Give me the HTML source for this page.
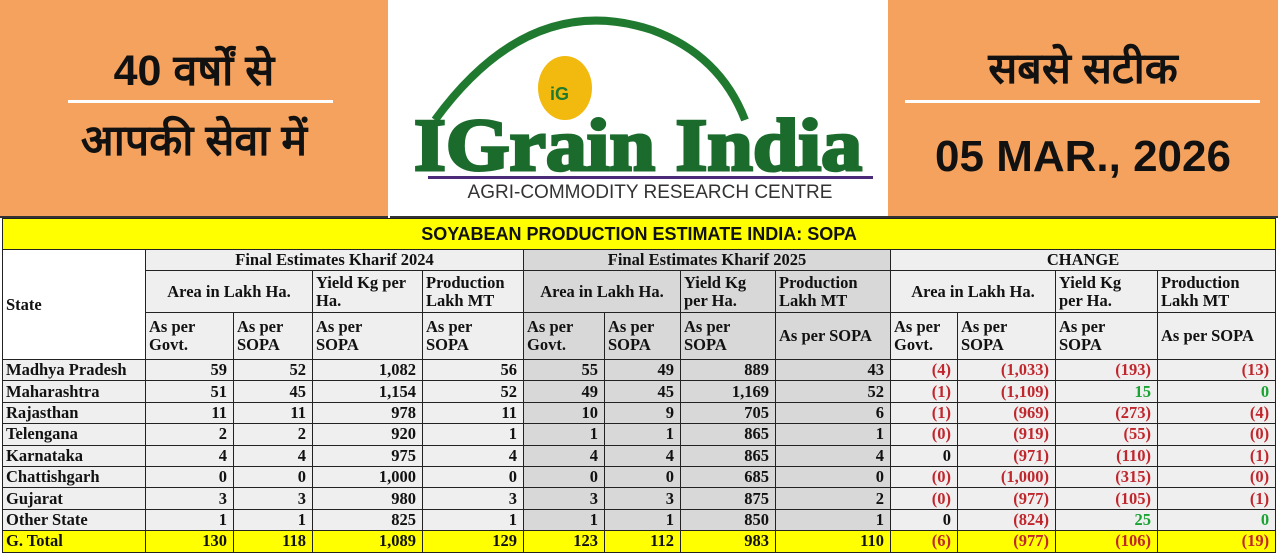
<!DOCTYPE html>
<html><head><meta charset="utf-8"><style>
body{margin:0;width:1280px;height:557px;background:#fff;position:relative;overflow:hidden;font-family:"Liberation Serif",serif}
.or{position:absolute;top:0;height:216px;background:#f4a25e;border-bottom:2px solid #333}
.hi{font-family:"Liberation Sans","Noto Sans CJK SC",sans-serif;position:absolute;text-align:center;color:#111}
table{position:absolute;left:2px;top:218px;border-collapse:collapse;table-layout:fixed;width:1273px}
td{border:1px solid #222;font-weight:bold;font-size:16.5px;padding:0 3px;line-height:18px;color:#111;background:#efefef;overflow:hidden;white-space:nowrap}
td.n{text-align:right;padding-right:6px}
td.c{text-align:center}
.g{background:#d8d8d8}
.r{color:#c0272d}.gr{color:#1aa333}
tr.t td{background:#ffff00}
.ttl{background:#ffff00;font-family:"Liberation Sans",sans-serif;font-size:18px;text-align:center;height:30px}
</style></head><body>
<div class="or" style="left:0;width:388px"></div>
<div class="or" style="left:888px;width:390px"></div>
<div style="position:absolute;left:390px;top:0;width:498px;height:216px;background:#fff;border-bottom:2px solid #333"></div>
<div class="hi" style="left:0;width:388px;top:46px;font-size:43px;font-weight:bold;line-height:50px">40 वर्षों से</div>
<div style="position:absolute;left:68px;top:100px;width:265px;height:3px;background:#fff"></div>
<div class="hi" style="left:0;width:388px;top:116px;font-size:43px;font-weight:bold;line-height:50px">आपकी सेवा में</div>
<div class="hi" style="left:888px;width:390px;top:44px;font-size:43px;font-weight:bold;line-height:50px">सबसे सटीक</div>
<div style="position:absolute;left:905px;top:100px;width:355px;height:3px;background:#fff"></div>
<div class="hi" style="left:888px;width:390px;top:132px;font-size:44px;font-weight:bold;line-height:50px">05 MAR., 2026</div>
<svg style="position:absolute;left:390px;top:0" width="498" height="216">
<path d="M45 120 Q140 -10 262 30 Q330 55 355 120" fill="none" stroke="#1f7a2f" stroke-width="8"/>
<ellipse cx="175" cy="88" rx="27" ry="32" fill="#f2b90f"/>
<text x="160" y="100" font-family="Liberation Sans" font-weight="bold" font-size="18" fill="#1f7a2f">iG</text>
<text x="24" y="170" font-family="Liberation Serif" font-weight="bold" font-size="74" fill="#1b6b2c" stroke="#1b6b2c" stroke-width="3" textLength="448" lengthAdjust="spacingAndGlyphs">IGrain India</text>
<rect x="38" y="176" width="445" height="3" fill="#4b2a7a"/>
<text x="260" y="198" text-anchor="middle" font-family="Liberation Sans" font-size="19" fill="#333">AGRI-COMMODITY RESEARCH CENTRE</text>
</svg>
<table>
<colgroup><col style="width:143px"><col style="width:88px"><col style="width:79px"><col style="width:110px"><col style="width:101px"><col style="width:81px"><col style="width:76px"><col style="width:95px"><col style="width:115px"><col style="width:67px"><col style="width:98px"><col style="width:102px"><col style="width:118px"></colgroup>
<tr><td colspan="13" class="ttl">SOYABEAN PRODUCTION ESTIMATE INDIA: SOPA</td></tr>
<tr style="height:21px"><td rowspan="3" style="background:#fff">State</td><td colspan="4" class="c">Final Estimates Kharif 2024</td><td colspan="4" class="c g">Final Estimates Kharif 2025</td><td colspan="4" class="c">CHANGE</td></tr>
<tr style="height:42px"><td colspan="2" class="c">Area in Lakh Ha.</td><td>Yield Kg per<br>Ha.</td><td>Production<br>Lakh MT</td><td colspan="2" class="c g">Area in Lakh Ha.</td><td class="g">Yield Kg<br>per Ha.</td><td class="g">Production<br>Lakh MT</td><td colspan="2" class="c">Area in Lakh Ha.</td><td>Yield Kg<br>per Ha.</td><td>Production<br>Lakh MT</td></tr>
<tr style="height:47px"><td>As per<br>Govt.</td><td>As per<br>SOPA</td><td>As per<br>SOPA</td><td>As per<br>SOPA</td><td class="g">As per<br>Govt.</td><td class="g">As per<br>SOPA</td><td class="g">As per<br>SOPA</td><td class="g">As per SOPA</td><td>As per<br>Govt.</td><td>As per<br>SOPA</td><td>As per<br>SOPA</td><td>As per SOPA</td></tr>
<tr style="height:21.4px"><td>Madhya Pradesh</td><td class="n">59</td><td class="n">52</td><td class="n">1,082</td><td class="n">56</td><td class="n g">55</td><td class="n g">49</td><td class="n g">889</td><td class="n g">43</td><td class="n r">(4)</td><td class="n r">(1,033)</td><td class="n r">(193)</td><td class="n r">(13)</td></tr>
<tr style="height:21.4px"><td>Maharashtra</td><td class="n">51</td><td class="n">45</td><td class="n">1,154</td><td class="n">52</td><td class="n g">49</td><td class="n g">45</td><td class="n g">1,169</td><td class="n g">52</td><td class="n r">(1)</td><td class="n r">(1,109)</td><td class="n gr">15</td><td class="n gr">0</td></tr>
<tr style="height:21.4px"><td>Rajasthan</td><td class="n">11</td><td class="n">11</td><td class="n">978</td><td class="n">11</td><td class="n g">10</td><td class="n g">9</td><td class="n g">705</td><td class="n g">6</td><td class="n r">(1)</td><td class="n r">(969)</td><td class="n r">(273)</td><td class="n r">(4)</td></tr>
<tr style="height:21.4px"><td>Telengana</td><td class="n">2</td><td class="n">2</td><td class="n">920</td><td class="n">1</td><td class="n g">1</td><td class="n g">1</td><td class="n g">865</td><td class="n g">1</td><td class="n r">(0)</td><td class="n r">(919)</td><td class="n r">(55)</td><td class="n r">(0)</td></tr>
<tr style="height:21.4px"><td>Karnataka</td><td class="n">4</td><td class="n">4</td><td class="n">975</td><td class="n">4</td><td class="n g">4</td><td class="n g">4</td><td class="n g">865</td><td class="n g">4</td><td class="n">0</td><td class="n r">(971)</td><td class="n r">(110)</td><td class="n r">(1)</td></tr>
<tr style="height:21.4px"><td>Chattishgarh</td><td class="n">0</td><td class="n">0</td><td class="n">1,000</td><td class="n">0</td><td class="n g">0</td><td class="n g">0</td><td class="n g">685</td><td class="n g">0</td><td class="n r">(0)</td><td class="n r">(1,000)</td><td class="n r">(315)</td><td class="n r">(0)</td></tr>
<tr style="height:21.4px"><td>Gujarat</td><td class="n">3</td><td class="n">3</td><td class="n">980</td><td class="n">3</td><td class="n g">3</td><td class="n g">3</td><td class="n g">875</td><td class="n g">2</td><td class="n r">(0)</td><td class="n r">(977)</td><td class="n r">(105)</td><td class="n r">(1)</td></tr>
<tr style="height:21.4px"><td>Other State</td><td class="n">1</td><td class="n">1</td><td class="n">825</td><td class="n">1</td><td class="n g">1</td><td class="n g">1</td><td class="n g">850</td><td class="n g">1</td><td class="n">0</td><td class="n r">(824)</td><td class="n gr">25</td><td class="n gr">0</td></tr>
<tr class="t" style="height:21.4px"><td>G. Total</td><td class="n">130</td><td class="n">118</td><td class="n">1,089</td><td class="n">129</td><td class="n">123</td><td class="n">112</td><td class="n">983</td><td class="n">110</td><td class="n r">(6)</td><td class="n r">(977)</td><td class="n r">(106)</td><td class="n r">(19)</td></tr>
</table>
</body></html>
